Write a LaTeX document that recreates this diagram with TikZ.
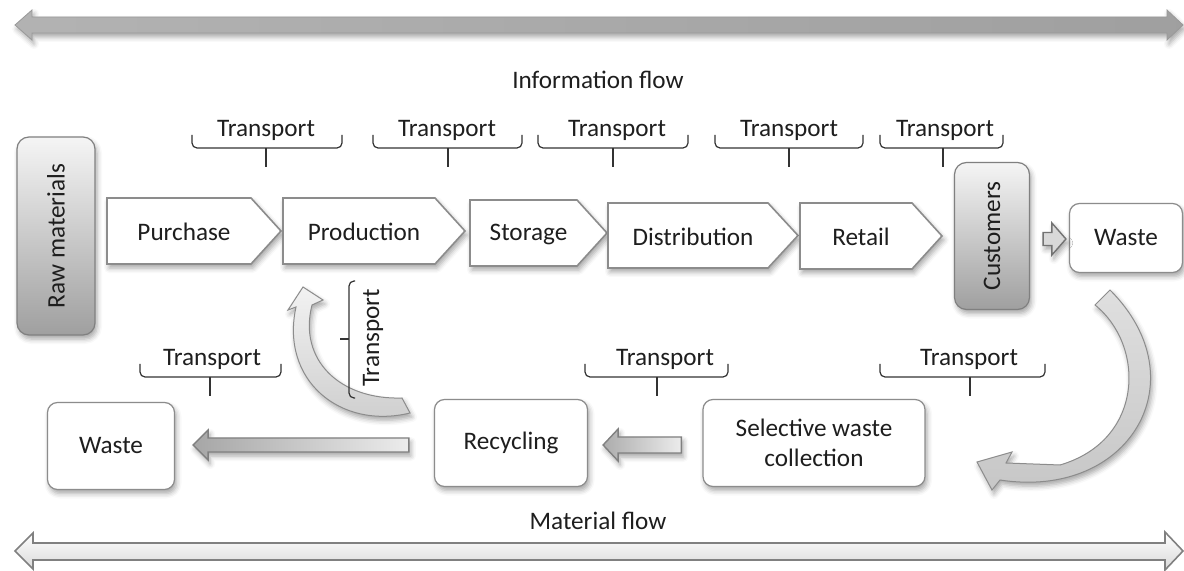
\documentclass[tikz,border=0pt]{standalone}
\usepackage{fontspec}
\setmainfont{Carlito}
\usetikzlibrary{calc,shadows.blur}

\definecolor{edgegray}{HTML}{8C8C8C}
\definecolor{textgray}{HTML}{1E1E1E}

\begin{document}
\begin{tikzpicture}[x=0.5pt,y=-0.5pt,
    font=\fontsize{12.6}{15}\selectfont, text=textgray,
    soft/.style={blur shadow={shadow xshift=1pt, shadow yshift=-2pt,
        shadow opacity=35, shadow blur radius=2.5pt}},
    box/.style={rectangle, rounded corners=5pt, draw=edgegray, line width=0.6pt,
        fill=white, align=center, inner sep=0pt, soft},
    actor/.style={box, rounded corners=6pt, draw=gray, top color=gray!8,
        bottom color=gray!75},
    chevron/.style={draw=edgegray, line width=0.8pt, fill=white, soft},
    blockarr/.style={draw=gray, line width=0.7pt, soft},
    tbrace/.style={draw=black!80, line width=0.6pt, rounded corners=2.5pt},
    curvearrow/.style={draw=gray!90, line width=0.5pt, top color=gray!25,
        bottom color=gray!45, soft}]

    \useasboundingbox (0,0) rectangle (1184,571);

    % information flow
    \draw[soft, draw=gray!80, line width=0.4pt, left color=gray!60, right color=gray!125!black]
        (15,25) -- (32,10) -- (32,17) -- (1167,17) -- (1167,10) -- (1183,25)
        -- (1167,40) -- (1167,33) -- (32,33) -- (32,40) -- cycle;
    \node (info) at (598,80) {Information flow};

    % material flow
    \draw[draw=gray, line width=0.8pt, top color=white, bottom color=gray!30]
        (15,551) -- (33,533) -- (33,543) -- (1165,543) -- (1165,532) -- (1183,551)
        -- (1165,570) -- (1165,560) -- (33,560) -- (33,569) -- cycle;
    \node (material) at (598,521) {Material flow};

    % the chain
    \node[actor, minimum width=39pt, minimum height=99pt] (raw) at (56,236)
        {\rotatebox{90}{Raw materials}};
    \foreach \xa/\xb/\yt/\yb/\nm/\txt in {107/281/198/264/purchase/Purchase,
            283/465/198/264/production/Production, 470/607/200/266/storage/Storage,
            608/798/203/268/distribution/Distribution, 800/942/203/269/retail/Retail}{
        \draw[chevron] (\xa,\yt) -- ({\xb-30},\yt) -- (\xb,{(\yt+\yb)/2})
            -- ({\xb-30},\yb) -- (\xa,\yb) -- cycle;
        \node (\nm) at ({(\xa+\xb-20)/2},{(\yt+\yb)/2+1}) {\txt};
    }
    \node[actor, minimum width=37.5pt, minimum height=73.5pt] (customers) at (992,236)
        {\rotatebox{90}{Customers}};
    \node[box, minimum width=56.5pt, minimum height=34.5pt] (waste) at (1126,238) {Waste};

    % back loop
    \node[box, minimum width=111pt, minimum height=43.5pt] (collection) at (814,443)
        {Selective waste\\collection};
    \node[box, minimum width=76.5pt, minimum height=43.5pt] (recycling) at (511,443) {Recycling};
    \node[box, minimum width=63.5pt, minimum height=43.5pt] (landfill) at (111,446) {Waste};

    % block arrows
    \coordinate (cw-tail) at ($(customers.east)+(13,3)$);
    \coordinate (cw-tip) at ($(waste.west)+(-3,1)$);
    \draw[blockarr, draw=gray!90!black, fill=gray!30] (cw-tip) -- ($(cw-tip)+(-14,-16)$)
        -- ($(cw-tip)+(-14,-6.5)$) -- ($(cw-tail)+(0,-6.5)$) -- ($(cw-tail)+(0,6.5)$)
        -- ($(cw-tip)+(-14,6.5)$) -- ($(cw-tip)+(-14,16)$) -- cycle;

    \coordinate (cr-tail) at ($(collection.west)+(-21,2)$);
    \coordinate (cr-tip) at ($(recycling.east)+(15,2)$);
    \draw[blockarr, left color=gray!65, right color=gray!15] (cr-tip) -- ($(cr-tip)+(15,-16)$)
        -- ($(cr-tip)+(15,-8)$) -- ($(cr-tail)+(0,-8)$) -- ($(cr-tail)+(0,8)$)
        -- ($(cr-tip)+(15,8)$) -- ($(cr-tip)+(15,16)$) -- cycle;

    \coordinate (rl-tail) at ($(recycling.west)+(-25,2)$);
    \coordinate (rl-tip) at ($(landfill.east)+(18,-1)$);
    \draw[blockarr, left color=gray!70, right color=gray!15] (rl-tip) -- ($(rl-tip)+(15,-15)$)
        -- ($(rl-tip)+(15,-7)$) -- ($(rl-tail)+(0,-7)$) -- ($(rl-tail)+(0,7)$)
        -- ($(rl-tip)+(15,7)$) -- ($(rl-tip)+(15,15)$) -- cycle;

    % curved arrows
    \draw[curvearrow] (1095,305) .. controls (1145,345) and (1145,440) .. (1060,465)
        -- (1006,463) -- (1012,452) -- (977,462) -- (992,490) -- (1000,480)
        .. controls (1130,500) and (1200,380) .. (1110,290) -- cycle;
    \draw[curvearrow, top color=gray!10, bottom color=gray!40]
        (410,413) .. controls (340,430) and (280,380) .. (296,307)
        -- (288,310) -- (303,287) -- (323,300) -- (312,305)
        .. controls (298,360) and (340,400) .. (402,398) -- cycle;

    % transport braces
    \foreach \xa/\xb/\xm/\yl/\xt/\nm in {192/342/266/148/266/tp1, 373/522/448/148/447/tp2,
            538/688/613/148/617/tp3, 715/863/789/148/789/tp4, 880/1003/943/148/945/tp5,
            140/281/210/377/212/tp6, 585/728/657/377/665/tp7, 880/1045/970/377/969/tp8}{
        \draw[tbrace] (\xa,{\yl-13}) |- (\xm,\yl) -| (\xb,{\yl-13});
        \draw[tbrace] (\xm,\yl) -- (\xm,{\yl+19});
        \node[anchor=base] (\nm) at (\xt,{\yl-11}) {Transport};
    }
    \draw[tbrace] (355,281) -| (349,339) |- (355,398);
    \draw[tbrace] (349,339) -- (340,339);
    \node[rotate=90] (tp9) at (373,338) {Transport};
\end{tikzpicture}
\end{document}
